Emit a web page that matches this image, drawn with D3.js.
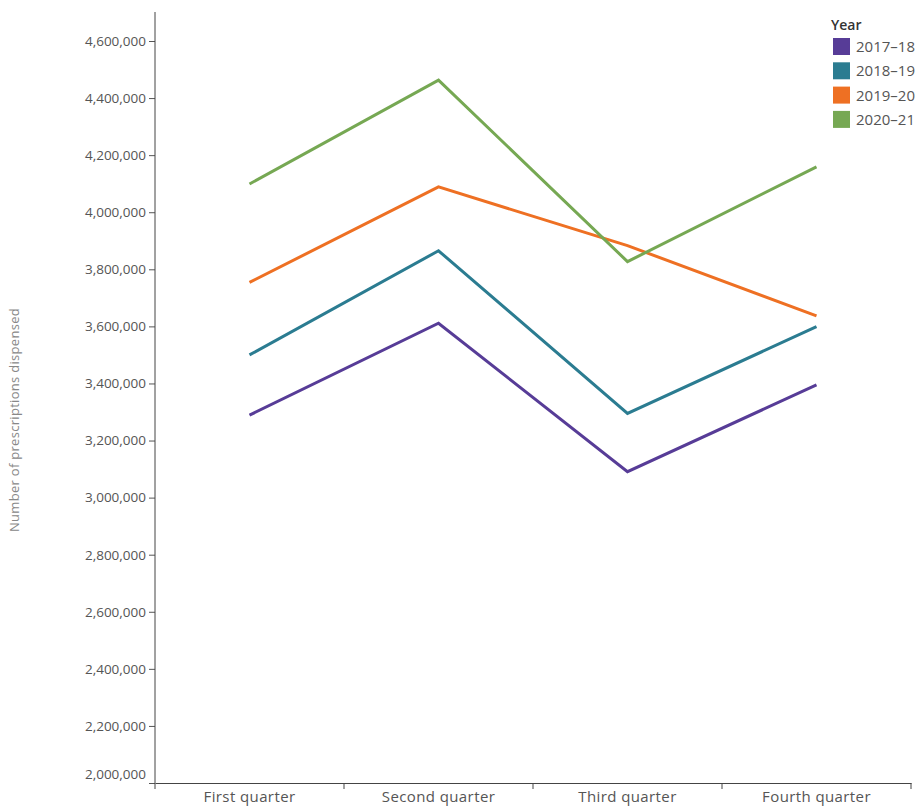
<!DOCTYPE html>
<html><head><meta charset="utf-8">
<script src="https://cdn.jsdelivr.net/npm/d3@7"></script>
<style>
body{margin:0;background:#fff;}
text{font-family:"Open Sans","DejaVu Sans",sans-serif;}
</style></head>
<body><svg id="chart" width="924" height="810"></svg>
<script>
const quarters = ["First quarter","Second quarter","Third quarter","Fourth quarter"];
const years = ["2017–18","2018–19","2019–20","2020–21"];
const colors = ["#573c97","#2b7c91","#ee7023","#76a853"];
const v2017 = [3289000,3611000,3091000,3395000];
const v2018 = [3500000,3865000,3295000,3599000];
const v2019 = [3754000,4089000,3883000,3637000];
const v2020 = [4099000,4463000,3827000,4159000];
const yTicks = [2000000,2200000,2400000,2600000,2800000,3000000,3200000,3400000,3600000,3800000,4000000,4200000,4400000,4600000];
const yTitle = "Number of prescriptions dispensed";
const legendTitle = "Year";

(function(){
const series = [v2017,v2018,v2019,v2020].map((vals,i)=>({name:years[i],color:colors[i],values:vals}));

const svg = d3.select("#chart");
const mLeft=155, mRight=911, mTop=12, mBottom=783;
const x = d3.scaleBand().domain(quarters).range([mLeft,mRight]);
const y = d3.scaleLinear().domain([2000000, 4600000]).range([mBottom, 41]);

// y axis
const ya = svg.append("g").attr("transform",`translate(${mLeft},0)`)
  .call(d3.axisLeft(y).tickValues(yTicks).tickFormat(d3.format(",")).tickSize(6).tickPadding(3));
ya.select(".domain").remove();
ya.selectAll(".tick line").attr("stroke","#555");
ya.selectAll(".tick text").attr("fill","#555").style("font-size","13.5px")
  .attr("dy", d => d===2000000 ? "-0.35em" : "0.32em");
svg.append("line").attr("x1",mLeft).attr("x2",mLeft).attr("y1",mTop).attr("y2",mBottom).attr("stroke","#444").attr("stroke-width",1);

// x axis
const xa = svg.append("g").attr("transform",`translate(0,${mBottom})`)
  .call(d3.axisBottom(x).tickSize(0).tickPadding(8));
xa.select(".domain").attr("stroke","#444");
xa.selectAll(".tick text").attr("fill","#555").style("font-size","15px").style("letter-spacing","0.4px");
const bounds = quarters.map(q=>x(q)).concat([x(quarters[3])+x.bandwidth()]);
svg.append("g").selectAll("line").data(bounds).join("line")
  .attr("x1",d=>d).attr("x2",d=>d).attr("y1",mBottom).attr("y2",mBottom+6).attr("stroke","#444");

// y title
svg.append("text").attr("transform",`translate(19,420) rotate(-90)`)
  .attr("text-anchor","middle").attr("fill","#888").style("font-size","13px").style("letter-spacing","0.3px").text(yTitle);

// lines
const line = d3.line().x((d,i)=>x(quarters[i])+x.bandwidth()/2).y(d=>y(d));
svg.append("g").selectAll("path").data(series).join("path")
  .attr("d",d=>line(d.values)).attr("fill","none").attr("stroke",d=>d.color)
  .attr("stroke-width",3).attr("stroke-linejoin","miter");

// legend
const lg = svg.append("g").attr("transform","translate(831,0)");
lg.append("text").attr("x",0).attr("y",30).attr("fill","#333").style("font-size","14px").style("font-weight","600").text(legendTitle);
const items = lg.selectAll("g.item").data(series).join("g").attr("class","item")
  .attr("transform",(d,i)=>`translate(0,${38+i*24.3})`);
items.append("rect").attr("x",2).attr("y",0).attr("width",17).attr("height",17).attr("fill",d=>d.color);
items.append("text").attr("x",25).attr("y",14).attr("fill","#555").style("font-size","15px").text(d=>d.name);
})();
</script></body></html>
